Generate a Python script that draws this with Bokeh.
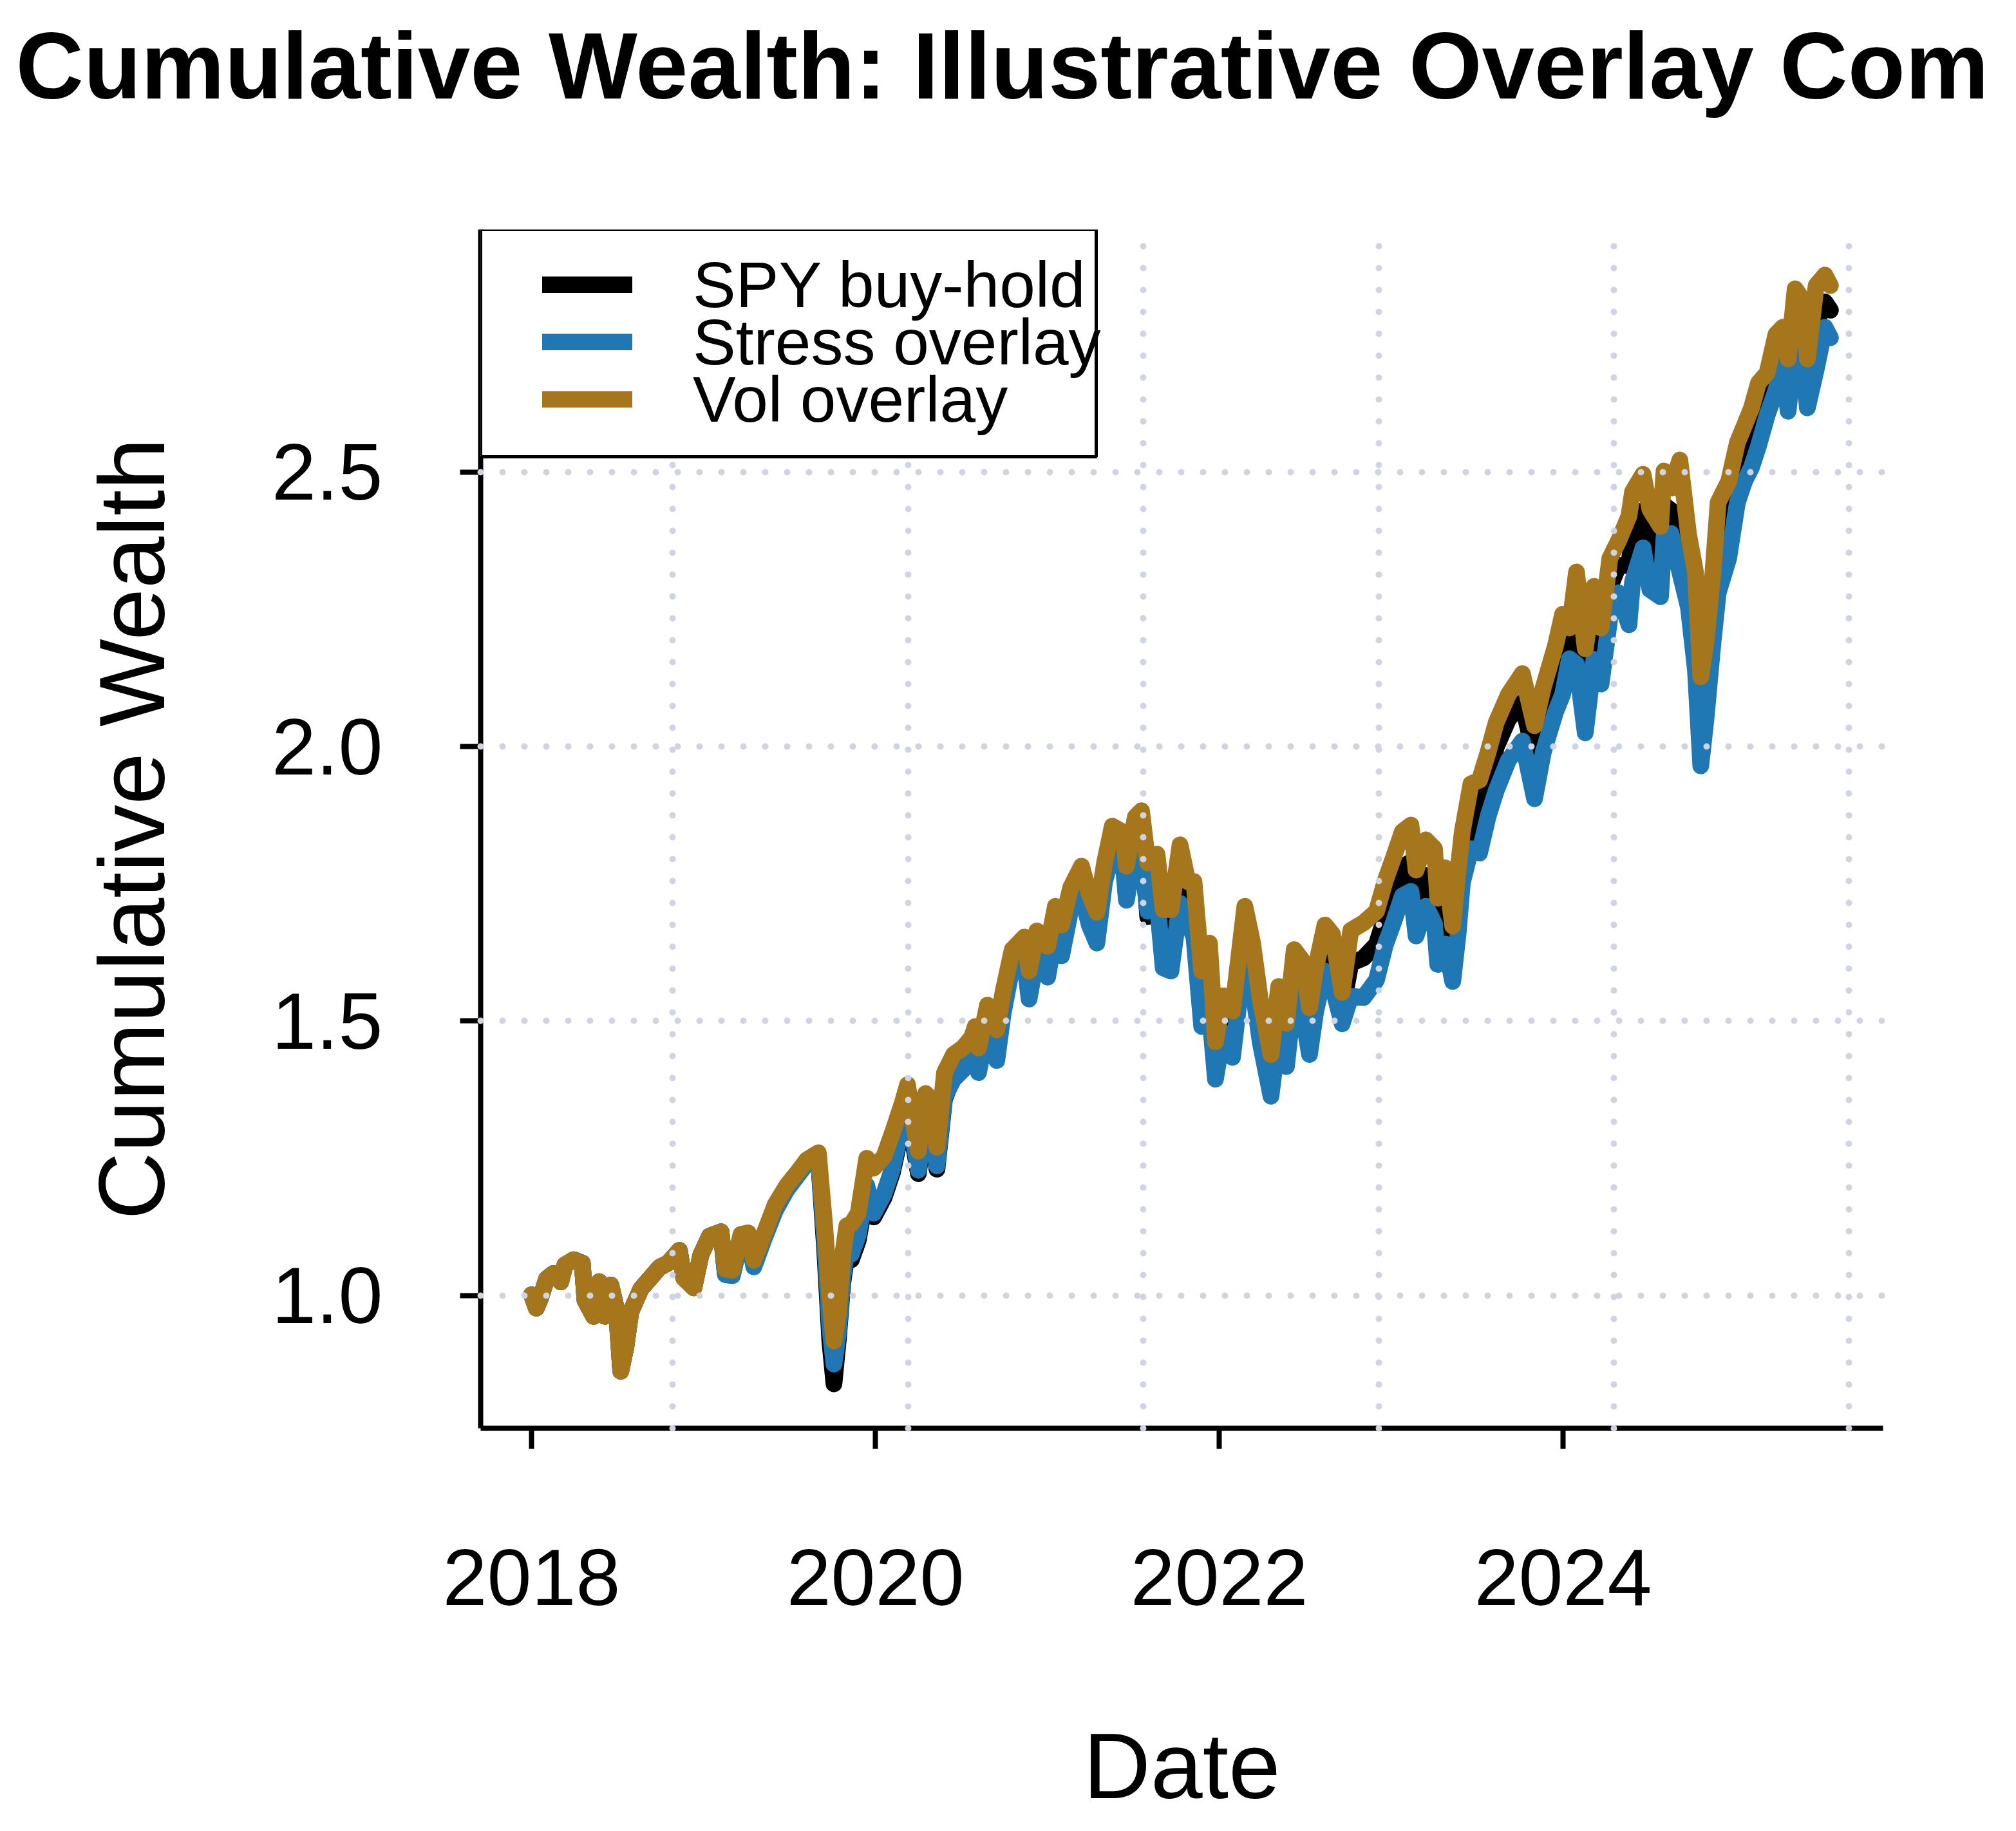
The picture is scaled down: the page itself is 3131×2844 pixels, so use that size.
from bokeh.plotting import figure
from bokeh.models import (Range1d, FixedTicker, Legend, LegendItem, BoxAnnotation,
                          PrintfTickFormatter, Title)
from bokeh.embed import file_html
from bokeh.resources import INLINE

# ---------------- data ----------------
dates = [
    2018.000, 2018.028, 2018.053, 2018.087, 2018.128, 2018.170, 2018.195, 2018.245,
    2018.295, 2018.311, 2018.361, 2018.394, 2018.428, 2018.461, 2018.494, 2018.519,
    2018.549, 2018.577, 2018.636, 2018.686, 2018.744, 2018.794, 2018.860, 2018.885,
    2018.944, 2018.985, 2019.035, 2019.102,
    2019.127, 2019.168, 2019.218, 2019.260, 2019.293, 2019.351, 2019.418, 2019.484,
    2019.551, 2019.601, 2019.668,
    2019.705, 2019.735, 2019.759, 2019.785, 2019.810, 2019.834, 2019.860, 2019.900,
    2019.950, 2019.990, 2020.050, 2020.100, 2020.158, 2020.187, 2020.217, 2020.250,
    2020.292, 2020.325, 2020.358, 2020.402, 2020.455, 2020.509, 2020.560, 2020.581,
    2020.600, 2020.652, 2020.706, 2020.742, 2020.796, 2020.867, 2020.894, 2020.939,
    2021.002, 2021.047, 2021.083, 2021.136, 2021.199, 2021.244, 2021.288, 2021.333,
    2021.378, 2021.441, 2021.460, 2021.512, 2021.548, 2021.584, 2021.638, 2021.674,
    2021.719, 2021.772, 2021.817, 2021.853, 2021.898, 2021.943, 2021.978, 2022.023,
    2022.077, 2022.149, 2022.194, 2022.238, 2022.301, 2022.346, 2022.391, 2022.436,
    2022.489, 2022.525, 2022.561, 2022.615, 2022.659, 2022.715, 2022.765, 2022.840,
    2022.915, 2022.965, 2023.015, 2023.065, 2023.115, 2023.145, 2023.202, 2023.252,
    2023.271, 2023.315, 2023.358, 2023.389, 2023.414, 2023.464, 2023.514, 2023.564,
    2023.611, 2023.682, 2023.763, 2023.834, 2023.885, 2023.956, 2023.997, 2024.037,
    2024.078, 2024.129, 2024.180, 2024.221, 2024.272, 2024.323, 2024.383, 2024.404,
    2024.465, 2024.505, 2024.567, 2024.587, 2024.628, 2024.679, 2024.729, 2024.770,
    2024.801, 2024.831, 2024.872, 2024.902, 2024.963, 2025.014, 2025.055, 2025.096,
    2025.136, 2025.187, 2025.238, 2025.279, 2025.309, 2025.350, 2025.391, 2025.421,
    2025.472, 2025.523, 2025.555,
]

vol_overlay = [
    1.001, 0.977, 0.996, 1.030, 1.040, 1.025, 1.056, 1.065,
    1.059, 0.991, 0.962, 1.025, 0.962, 1.019, 0.975, 0.862,
    0.907, 0.970, 1.012, 1.030, 1.051, 1.059, 1.082, 1.032,
    1.014, 1.074, 1.108, 1.116,
    1.048, 1.046, 1.111, 1.114, 1.064, 1.111, 1.166, 1.200,
    1.226, 1.247, 1.260,
    1.127, 0.996, 0.917, 0.970, 1.074, 1.127, 1.130, 1.150,
    1.250, 1.232, 1.253, 1.297, 1.352, 1.384, 1.321, 1.263,
    1.368, 1.357, 1.270, 1.406, 1.439, 1.451, 1.470, 1.490,
    1.451, 1.529, 1.484, 1.552, 1.630, 1.653, 1.591, 1.664,
    1.636, 1.709, 1.675, 1.743, 1.782, 1.731, 1.698, 1.788,
    1.855, 1.844, 1.782, 1.872, 1.883, 1.788, 1.804, 1.703,
    1.703, 1.821, 1.754, 1.754, 1.591, 1.642, 1.462, 1.546,
    1.518, 1.709, 1.642, 1.540, 1.439, 1.563, 1.496, 1.630,
    1.608, 1.524, 1.597, 1.675, 1.658, 1.552, 1.665, 1.679,
    1.700, 1.755, 1.799, 1.845, 1.857, 1.775, 1.830, 1.814,
    1.724, 1.779, 1.673, 1.775, 1.845, 1.932, 1.939, 1.990,
    2.044, 2.095, 2.133, 2.038, 2.108, 2.184, 2.241, 2.216,
    2.318, 2.178, 2.292, 2.216, 2.343, 2.375, 2.420, 2.464,
    2.496, 2.432, 2.401, 2.502, 2.471, 2.522, 2.388, 2.318,
    2.127, 2.190, 2.318, 2.445, 2.483, 2.554, 2.585, 2.617,
    2.662, 2.681, 2.751, 2.764, 2.706, 2.834, 2.815, 2.706,
    2.840, 2.859, 2.840,
]

stress_overlay = [
    1.001, 0.977, 0.996, 1.030, 1.040, 1.025, 1.056, 1.065,
    1.059, 0.991, 0.962, 1.025, 0.962, 1.019, 0.975, 0.862,
    0.907, 0.970, 1.012, 1.030, 1.051, 1.059, 1.082, 1.032,
    1.014, 1.074, 1.108, 1.116,
    1.038, 1.036, 1.104, 1.106, 1.052, 1.102, 1.155, 1.192,
    1.220, 1.240, 1.254,
    1.101, 0.943, 0.875, 0.933, 1.032, 1.085, 1.075, 1.110,
    1.200, 1.150, 1.185, 1.232, 1.316, 1.345, 1.290, 1.228,
    1.330, 1.318, 1.236, 1.362, 1.394, 1.411, 1.430, 1.451,
    1.406, 1.490, 1.428, 1.512, 1.600, 1.610, 1.540, 1.619,
    1.580, 1.664, 1.619, 1.703, 1.731, 1.675, 1.642, 1.754,
    1.804, 1.788, 1.720, 1.816, 1.800, 1.700, 1.720, 1.597,
    1.591, 1.714, 1.680, 1.653, 1.490, 1.520, 1.394, 1.479,
    1.434, 1.625, 1.563, 1.462, 1.363, 1.479, 1.417, 1.546,
    1.507, 1.439, 1.518, 1.591, 1.563, 1.495, 1.545, 1.543,
    1.575, 1.638, 1.681, 1.728, 1.736, 1.655, 1.709, 1.677,
    1.603, 1.640, 1.572, 1.658, 1.752, 1.814, 1.806, 1.873,
    1.920, 1.975, 2.010, 1.905, 1.990, 2.063, 2.095, 2.160,
    2.150, 2.025, 2.159, 2.114, 2.235, 2.280, 2.222, 2.300,
    2.362, 2.286, 2.273, 2.382, 2.388, 2.318, 2.254, 2.139,
    1.965, 2.050, 2.190, 2.280, 2.343, 2.445, 2.483, 2.509,
    2.547, 2.604, 2.649, 2.700, 2.611, 2.732, 2.720, 2.617,
    2.687, 2.764, 2.745,
]

spy_buy_hold = [
    1.001, 0.977, 0.996, 1.030, 1.040, 1.025, 1.056, 1.065,
    1.059, 0.991, 0.962, 1.025, 0.962, 1.019, 0.975, 0.862,
    0.907, 0.970, 1.012, 1.030, 1.051, 1.059, 1.082, 1.032,
    1.014, 1.074, 1.108, 1.116,
    1.040, 1.038, 1.106, 1.108, 1.055, 1.104, 1.158, 1.194,
    1.221, 1.242, 1.256,
    1.085, 0.917, 0.839, 0.922, 1.022, 1.075, 1.065, 1.100,
    1.190, 1.143, 1.178, 1.225, 1.310, 1.340, 1.283, 1.222,
    1.325, 1.313, 1.230, 1.358, 1.400, 1.420, 1.442, 1.465,
    1.420, 1.505, 1.450, 1.530, 1.613, 1.630, 1.562, 1.640,
    1.605, 1.685, 1.645, 1.722, 1.755, 1.700, 1.668, 1.770,
    1.828, 1.815, 1.750, 1.843, 1.840, 1.690, 1.760, 1.650,
    1.645, 1.765, 1.715, 1.700, 1.540, 1.580, 1.428, 1.512,
    1.475, 1.667, 1.602, 1.500, 1.400, 1.520, 1.456, 1.588,
    1.557, 1.480, 1.557, 1.633, 1.610, 1.520, 1.605, 1.615,
    1.640, 1.690, 1.735, 1.780, 1.790, 1.710, 1.765, 1.740,
    1.660, 1.705, 1.615, 1.710, 1.795, 1.870, 1.870, 1.930,
    1.999, 2.050, 2.080, 1.980, 2.060, 2.127, 2.170, 2.190,
    2.240, 2.100, 2.230, 2.165, 2.290, 2.330, 2.330, 2.390,
    2.430, 2.360, 2.340, 2.440, 2.430, 2.394, 2.320, 2.230,
    2.050, 2.120, 2.255, 2.360, 2.410, 2.500, 2.535, 2.565,
    2.605, 2.640, 2.700, 2.735, 2.660, 2.785, 2.770, 2.660,
    2.770, 2.810, 2.795,
]

year_ticks = [2018, 2020, 2022, 2024]
wealth_ticks = [1.0, 1.5, 2.0, 2.5]
grid_years = [2018.820, 2020.189, 2021.558, 2022.927, 2024.295, 2025.664]

series_names = ["SPY buy-hold", "Stress overlay", "Vol overlay"]
series_colors = ["#000000", "#1F77B4", "#A6761D"]
# the reference shows the title cut at the right edge of the image after "Com"
title_text = "Cumulative Wealth: Illustrative Overlay Com"

FONT = "Liberation Sans"

# ---------------- figure ----------------
p = figure(width=3115, height=2828,
           x_range=Range1d(2017.704, 2025.861), y_range=Range1d(0.758, 2.942),
           output_backend="svg", toolbar_location=None,
           min_border_left=746, min_border_right=191,
           min_border_top=356, min_border_bottom=610)
p.outline_line_color = None
p.background_fill_color = "white"
p.border_fill_color = "white"
p.title.visible = False

# spacer between frame and title (keeps the title high, as in the reference)
spacer = Title(text=" ", text_font=FONT, text_font_size="146px")
if "standoff" in spacer.properties():
    spacer.standoff = 3
p.add_layout(spacer, "above")

main_title = Title(text=title_text, text_font=FONT, text_font_style="bold",
                   text_font_size="146px", text_color="black",
                   align="left", offset=-722)
if "standoff" in main_title.properties():
    main_title.standoff = 10
p.add_layout(main_title, "above")

# axes
p.xaxis.ticker = FixedTicker(ticks=year_ticks)
p.xaxis.formatter = PrintfTickFormatter(format="%d")
p.yaxis.ticker = FixedTicker(ticks=wealth_ticks)
p.yaxis.formatter = PrintfTickFormatter(format="%.1f")
p.xaxis.axis_label = "Date"
p.yaxis.axis_label = "Cumulative Wealth"
for ax in (p.xaxis[0], p.yaxis[0]):
    ax.axis_line_width = 8
    ax.axis_line_color = "black"
    ax.major_tick_line_width = 8
    ax.major_tick_line_color = "black"
    ax.major_tick_out = 32
    ax.major_tick_in = 0
    ax.minor_tick_out = 0
    ax.minor_tick_in = 0
    ax.major_label_text_font = FONT
    ax.major_label_text_font_size = "124px"
    ax.major_label_text_color = "black"
    ax.axis_label_text_font = FONT
    ax.axis_label_text_font_size = "145px"
    ax.axis_label_text_font_style = "normal"
    ax.axis_label_text_color = "black"
p.yaxis.major_label_standoff = 120
p.yaxis.axis_label_standoff = 133
p.xaxis.major_label_standoff = 156
p.xaxis.axis_label_standoff = 166

# grid (dotted, drawn above the lines)
p.xgrid.ticker = FixedTicker(ticks=grid_years)
for g in (p.xgrid[0], p.ygrid[0]):
    g.grid_line_color = "#CFD4E1"
    g.grid_line_width = 10
    g.grid_line_dash = "0 34"
    g.grid_line_cap = "round"
    g.level = "guide"

# lines
values = [spy_buy_hold, stress_overlay, vol_overlay]
renderers = []
for vals, col in zip(values, series_colors):
    r = p.line(dates, vals, line_color=col, line_width=26,
               line_join="round", line_cap="round")
    renderers.append(r)

# legend box (frame-relative screen units)
box = BoxAnnotation(left=0, right=956, top=1862, bottom=1509,
                    left_units="screen", right_units="screen",
                    top_units="screen", bottom_units="screen",
                    fill_color="white", fill_alpha=1.0,
                    line_color="black", line_width=5, line_alpha=1.0)
p.add_layout(box)

# one single-item legend per series, so the rows sit as close as in the reference
legend_rows_y = [1716, 1627, 1538]
for name, r, vy in zip(series_names, renderers, legend_rows_y):
    lg = Legend(items=[LegendItem(label=name, renderers=[r])],
                location=(96, vy), orientation="vertical",
                padding=0, margin=0, spacing=0,
                label_height=120, glyph_height=26, glyph_width=140,
                label_standoff=94,
                border_line_color=None, background_fill_alpha=0.0,
                label_text_font=FONT, label_text_font_size="100px",
                label_text_color="black")
    p.add_layout(lg)

open("out.html", "w").write(file_html(p, INLINE))
